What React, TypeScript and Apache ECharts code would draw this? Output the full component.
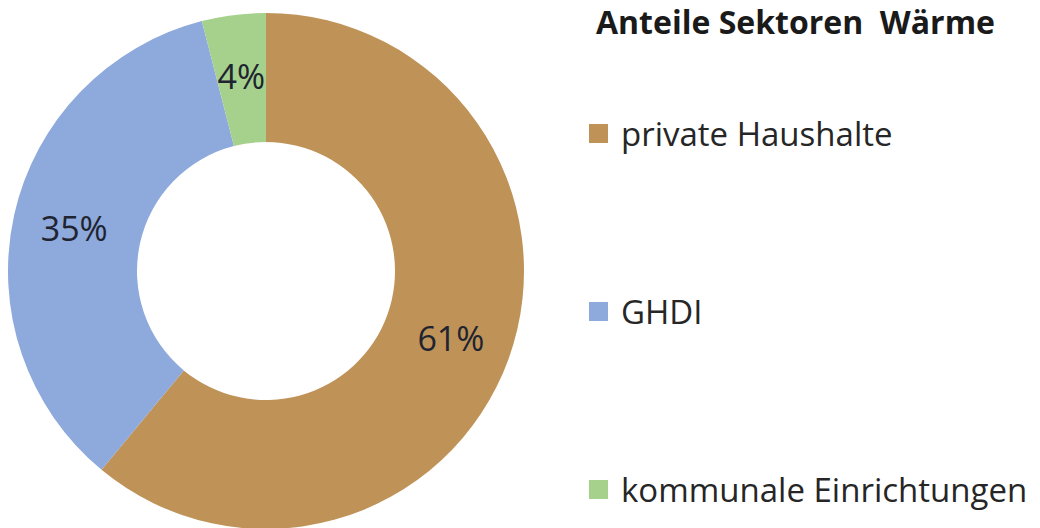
import React, { useEffect, useRef } from "react";
import * as echarts from "echarts";

const categories = ["private Haushalte", "GHDI", "kommunale Einrichtungen"];
const values = [61, 35, 4];
const colors = ["#BF9358", "#8EA9DB", "#A5D18D"];
const titleText = "Anteile Sektoren  Wärme";

export default function App() {
  const ref = useRef<HTMLDivElement>(null);
  useEffect(() => {
    document.body.style.margin = "0";
    const chart = echarts.init(ref.current!, undefined, { renderer: "svg" });
    chart.setOption({
      animation: false,
      backgroundColor: "#ffffff",
      title: {
        text: titleText,
        left: 591,
        top: 0,
        textStyle: {
          fontFamily: "Open Sans",
          fontWeight: "bold",
          fontSize: 32,
          lineHeight: 32,
          color: "#1a1a1a",
        },
      },
      legend: {
        orient: "vertical",
        left: 584,
        top: 112,
        itemWidth: 19,
        itemHeight: 19,
        itemGap: 145,
        icon: "rect",
        data: categories,
        textStyle: {
          fontFamily: "Open Sans",
          fontSize: 33,
          lineHeight: 30,
          color: "#262626",
          padding: [0, 0, 0, 8],
        },
      },
      series: [
        {
          type: "pie",
          center: [266, 271],
          radius: [129, 258],
          startAngle: 90,
          clockwise: true,
          label: {
            show: true,
            position: "inside",
            formatter: "{c}%",
            fontFamily: "Open Sans",
            fontSize: 34,
            color: "#1e2430",
          },
          labelLine: { show: false },
          itemStyle: { borderWidth: 0 },
          emphasis: { disabled: true },
          data: categories.map((name, i) => ({
            name,
            value: values[i],
            itemStyle: { color: colors[i] },
          })),
        },
      ],
    });
    return () => chart.dispose();
  }, []);
  return (
    <div
      ref={ref}
      style={{ position: "fixed", left: 0, top: 0, width: 1040, height: 528 }}
    />
  );
}
